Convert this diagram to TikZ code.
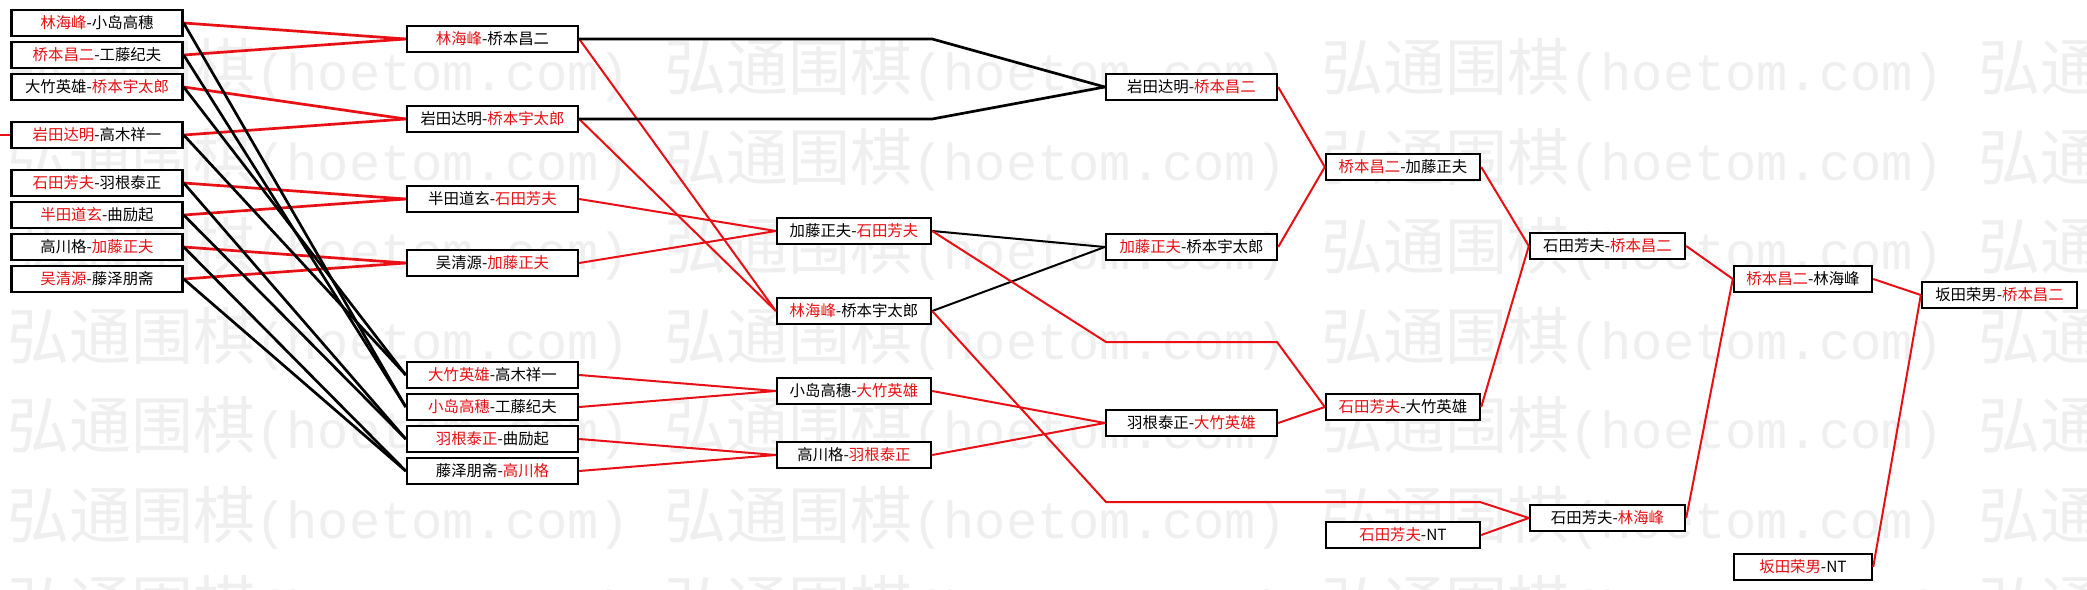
\documentclass[tikz,border=0pt]{standalone}
\usepackage{fontspec}
\setmainfont{Noto Sans CJK SC}
\newfontfamily\monowm{Liberation Mono}

\definecolor{rosso}{RGB}{232,16,20}
\definecolor{filigrana}{RGB}{239,239,239}
\newcommand{\vince}[1]{\textcolor{rosso}{#1}}

\tikzset{
    partita/.style={draw, fill=white, line width=1.2pt, rectangle, inner sep=0pt,
        minimum height=13pt, font=\fontsize{7.7pt}{9pt}\selectfont},
    vinto/.style={draw=rosso, line width=1pt},
    perso/.style={draw=black, line width=1pt},
    spesso/.style={line width=1.35pt},
    marchio/.style={text=filigrana, inner sep=0pt, anchor=west, font=\fontsize{31pt}{32pt}\selectfont}
}

\begin{document}
\begin{tikzpicture}[x=0.5pt, y=-0.5pt, line join=miter]

        % ==========================================
        % 0. Sfondo e filigrana
        % ==========================================
        \fill[white] (0,0) rectangle (2087,589);
        \useasboundingbox (0,0) rectangle (2087,589);
        \foreach \r in {0,...,6}{
            \foreach \c in {0,...,3}{
                \node[marchio] (wm-\r-\c) at (7+657*\c, 70+89.5*\r)
                    {弘通围棋{\monowm\fontsize{26pt}{27pt}\selectfont(hoetom.com)}};
            }
        }

        % ==========================================
        % 1. Caselle delle partite (nome / x / y / larghezza / testo)
        % ==========================================
        \foreach \nome/\x/\y/\w/\testo in {
            a1/97/23/85.5pt/{\vince{林海峰}-小岛高穗},
            a2/97/55/85.5pt/{\vince{桥本昌二}-工藤纪夫},
            a3/97/87/85.5pt/{大竹英雄-\vince{桥本宇太郎}},
            a4/97/135/85.5pt/{\vince{岩田达明}-高木祥一},
            a5/97/183/85.5pt/{\vince{石田芳夫}-羽根泰正},
            a6/97/215/85.5pt/{\vince{半田道玄}-曲励起},
            a7/97/247/85.5pt/{高川格-\vince{加藤正夫}},
            a8/97/279/85.5pt/{\vince{吴清源}-藤泽朋斋},
            b1/492.5/39/85.5pt/{\vince{林海峰}-桥本昌二},
            b2/492.5/119/85.5pt/{岩田达明-\vince{桥本宇太郎}},
            b3/492.5/199/85.5pt/{半田道玄-\vince{石田芳夫}},
            b4/492.5/263/85.5pt/{吴清源-\vince{加藤正夫}},
            b5/492.5/375/85.5pt/{\vince{大竹英雄}-高木祥一},
            b6/492.5/407/85.5pt/{\vince{小岛高穗}-工藤纪夫},
            b7/492.5/439/85.5pt/{\vince{羽根泰正}-曲励起},
            b8/492.5/471/85.5pt/{藤泽朋斋-\vince{高川格}},
            c1/854/231/77pt/{加藤正夫-\vince{石田芳夫}},
            c2/854/311/77pt/{\vince{林海峰}-桥本宇太郎},
            c3/854/391/77pt/{小岛高穗-\vince{大竹英雄}},
            c4/854/455/77pt/{高川格-\vince{羽根泰正}},
            d1/1191.5/87/85.5pt/{岩田达明-\vince{桥本昌二}},
            d2/1191.5/247/85.5pt/{\vince{加藤正夫}-桥本宇太郎},
            d3/1191.5/423/85.5pt/{羽根泰正-\vince{大竹英雄}},
            e1/1403/167/77pt/{\vince{桥本昌二}-加藤正夫},
            e2/1403/407/77pt/{\vince{石田芳夫}-大竹英雄},
            e3/1403/535/77pt/{\vince{石田芳夫}-NT},
            f1/1607.5/246/77.5pt/{石田芳夫-\vince{桥本昌二}},
            f2/1607.5/518/77.5pt/{石田芳夫-\vince{林海峰}},
            g1/1803/279/69pt/{\vince{桥本昌二}-林海峰},
            g2/1803/567/69pt/{\vince{坂田荣男}-NT},
            h1/1999.5/295/77.5pt/{坂田荣男-\vince{桥本昌二}}
        }{
            \node[partita, minimum width=\w] (\nome) at (\x,\y) {\testo};
        }

        % ==========================================
        % 2. Collegamenti dei vincitori (rossi) e dei perdenti (neri)
        % ==========================================
        % primo turno: linee piu' spesse
        \foreach \da/\a in {a1/b1, a2/b1, a3/b2, a4/b2, a5/b3, a6/b3, a7/b4, a8/b4}
            \draw[vinto, spesso] (\da.east) -- (\a.west);
        \foreach \da/\a in {a1/b6, a2/b6, a3/b5, a4/b5, a5/b7, a6/b7, a7/b8, a8/b8}
            \draw[perso, spesso] (\da.east) -- (\a.west);

        \foreach \da/\a in {b1/c2, b2/c2, b3/c1, b4/c1, b5/c3, b6/c3, b7/c4, b8/c4,
                            c3/d3, c4/d3, d1/e1, d2/e1, d3/e2,
                            e1/f1, e2/f1, e3/f2, f1/g1, f2/g1, g1/h1, g2/h1}
            \draw[vinto] (\da.east) -- (\a.west);

        \foreach \da/\a in {c1/d2, c2/d2}
            \draw[perso] (\da.east) -- (\a.west);

        % perdenti del secondo turno: dritti fino alla terza colonna, poi in diagonale
        \draw[perso, spesso] (b1.east) -- (b1.east -| c1.east) -- (d1.west);
        \draw[perso, spesso] (b2.east) -- (b2.east -| c1.east) -- (d1.west);

        % percorsi lunghi con punti di piega
        \coordinate (p1) at (1106,342);
        \coordinate (p2) at (1277,342);
        \coordinate (q1) at (1106,502);
        \coordinate (q2) at (1480,502);
        \draw[vinto] (c1.east) -- (p1) -- (p2) -- (e2.west);
        \draw[vinto] (c2.east) -- (q1) -- (q2) -- (f2.west);

        % filo entrante dal bordo sinistro
        \coordinate (ingresso) at (0,135);
        \draw[vinto, spesso] (ingresso) -- (a4.west);

    \end{tikzpicture}
\end{document}
